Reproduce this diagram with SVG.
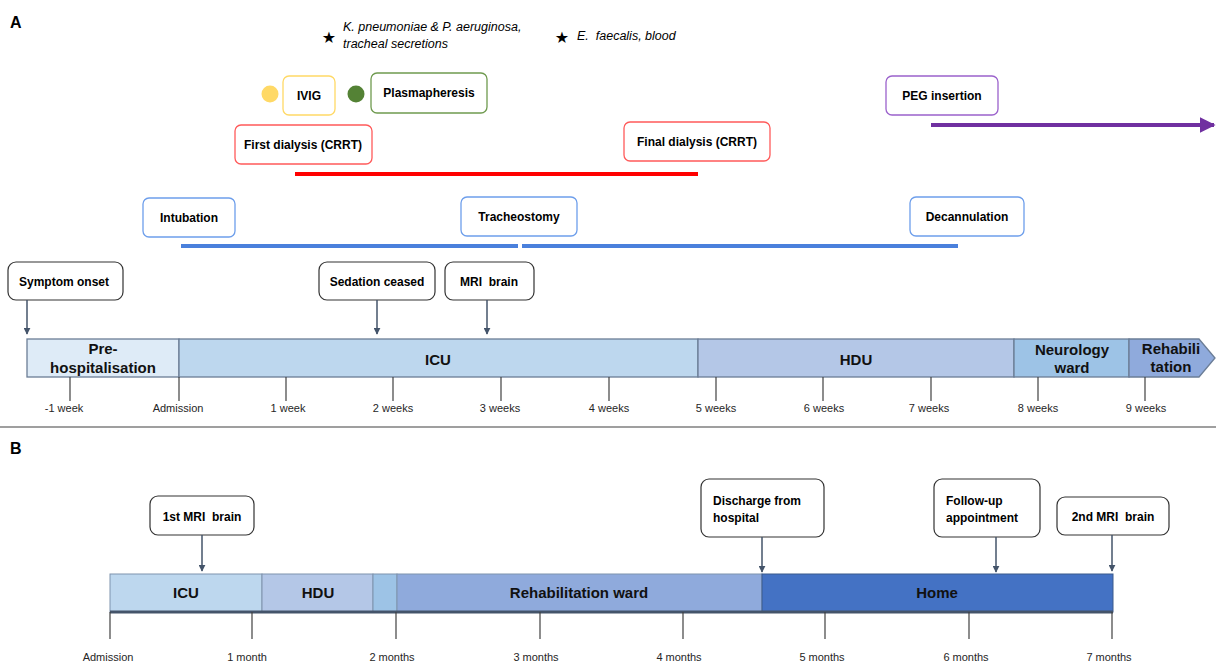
<svg xmlns="http://www.w3.org/2000/svg" width="1216" height="662" viewBox="0 0 1216 662">
<defs>
<style>
.panel{font-family:"Liberation Sans",Arial,sans-serif;font-weight:bold;font-size:16px;fill:#000}
.lbl{font-family:"Liberation Sans",Arial,sans-serif;font-weight:bold;font-size:12px;fill:#000}
.tick{font-family:"Liberation Sans",Arial,sans-serif;font-size:11px;fill:#262626}
.bar{font-family:"Liberation Sans",Arial,sans-serif;font-weight:bold;font-size:15px;fill:#111}
.ital{font-family:"Liberation Sans",Arial,sans-serif;font-style:italic;font-size:12.5px;fill:#000}
.star{font-family:"DejaVu Sans",sans-serif;font-size:16px;fill:#000}
.ev{fill:#fff;stroke:#333;stroke-width:1.2}
.evline{stroke:#44546a;stroke-width:1.5;fill:none}
.tl{stroke:#404040;stroke-width:1.2}
.segA{stroke:#6b7d96;stroke-width:1.3}
.segB{stroke:#7f93ad;stroke-width:1}
</style>
<marker id="ah" viewBox="0 0 10 10" refX="9" refY="5" markerWidth="7" markerHeight="7" markerUnits="userSpaceOnUse" orient="auto">
<path d="M0,0 L10,5 L0,10 z" fill="#44546a"/>
</marker>
<marker id="ahp" viewBox="0 0 10 10" refX="9" refY="5" markerWidth="4" markerHeight="4" orient="auto">
<path d="M0,0 L10,5 L0,10 z" fill="#7030a0"/>
</marker>
</defs>

<rect width="1216" height="662" fill="#fff"/>

<!-- Panel labels -->
<text class="panel" x="10" y="28">A</text>
<text class="panel" x="10" y="454">B</text>

<!-- Infections -->
<g id="infection1">
<text class="star" x="329" y="43" text-anchor="middle">★</text>
<text class="ital" x="343" y="31">K. pneumoniae &amp; P. aeruginosa,</text>
<text class="ital" x="343" y="48">tracheal secretions</text>
</g>
<g id="infection2">
<text class="star" x="562" y="43" text-anchor="middle">★</text>
<text class="ital" x="577" y="40" xml:space="preserve">E.  faecalis, blood</text>
</g>

<!-- Treatments -->
<g id="ivig">
<circle cx="270" cy="94" r="8.5" fill="#ffd966"/>
<rect x="283" y="76" width="52" height="39" rx="6" fill="#fff" stroke="#ffd966" stroke-width="1.3"/>
<text class="lbl" x="309" y="100" text-anchor="middle">IVIG</text>
</g>
<g id="plasmapheresis">
<circle cx="356" cy="94" r="8.5" fill="#548235"/>
<rect x="371" y="73" width="116" height="40" rx="6" fill="#fff" stroke="#6f9a4f" stroke-width="1.3"/>
<text class="lbl" x="429" y="97" text-anchor="middle">Plasmapheresis</text>
</g>
<g id="first-dialysis">
<rect x="235" y="125" width="137" height="39" rx="6" fill="#fff" stroke="#ff5a5a" stroke-width="1.3"/>
<text class="lbl" x="303" y="149" text-anchor="middle">First dialysis (CRRT)</text>
</g>
<g id="final-dialysis">
<rect x="624" y="122" width="146" height="39" rx="6" fill="#fff" stroke="#ff5a5a" stroke-width="1.3"/>
<text class="lbl" x="697" y="146" text-anchor="middle">Final dialysis (CRRT)</text>
</g>
<g id="peg">
<rect x="886" y="76" width="112" height="39" rx="6" fill="#fff" stroke="#9b62cc" stroke-width="1.3"/>
<text class="lbl" x="942" y="100" text-anchor="middle">PEG insertion</text>
</g>
<g id="intubation">
<rect x="143" y="198" width="92" height="39" rx="6" fill="#fff" stroke="#6d9eeb" stroke-width="1.3"/>
<text class="lbl" x="189" y="222" text-anchor="middle">Intubation</text>
</g>
<g id="tracheostomy">
<rect x="461" y="197" width="116" height="39" rx="6" fill="#fff" stroke="#6d9eeb" stroke-width="1.3"/>
<text class="lbl" x="519" y="221" text-anchor="middle">Tracheostomy</text>
</g>
<g id="decannulation">
<rect x="910" y="197" width="114" height="39" rx="6" fill="#fff" stroke="#6d9eeb" stroke-width="1.3"/>
<text class="lbl" x="967" y="221" text-anchor="middle">Decannulation</text>
</g>

<!-- Duration lines -->
<g id="durations">
<line x1="295" y1="174" x2="698" y2="174" stroke="#ff0000" stroke-width="4"/>
<line x1="931" y1="125" x2="1214" y2="125" stroke="#7030a0" stroke-width="4" marker-end="url(#ahp)"/>
<line x1="181" y1="246" x2="518" y2="246" stroke="#4a80dc" stroke-width="4"/>
<line x1="522" y1="246" x2="958" y2="246" stroke="#4a80dc" stroke-width="4"/>
</g>

<!-- Events A -->
<g id="symptom-onset">
<rect class="ev" x="8" y="262" width="115" height="38" rx="8"/>
<text class="lbl" x="64" y="286" text-anchor="middle">Symptom onset</text>
</g>
<g id="sedation-ceased">
<rect class="ev" x="319" y="262" width="116" height="38" rx="8"/>
<text class="lbl" x="377" y="286" text-anchor="middle">Sedation ceased</text>
</g>
<g id="mri-brain">
<rect class="ev" x="445" y="262" width="89" height="38" rx="8"/>
<text class="lbl" x="489" y="286" text-anchor="middle" xml:space="preserve">MRI  brain</text>
</g>

<!-- Timeline A -->
<g id="timeline-a">
<rect class="segA" x="27" y="339" width="152" height="38" fill="#deebf7"/>
<rect class="segA" x="179" y="339" width="519" height="38" fill="#bdd7ee"/>
<rect class="segA" x="698" y="339" width="316" height="38" fill="#b4c7e7"/>
<rect class="segA" x="1014" y="339" width="115" height="38" fill="#9dc3e6"/>
<polygon class="segA" points="1129,339 1199,339 1215,358 1199,377 1129,377" fill="#8faadc"/>
<text class="bar" x="103" y="354" text-anchor="middle">Pre-</text>
<text class="bar" x="103" y="373" text-anchor="middle">hospitalisation</text>
<text class="bar" x="438" y="365" text-anchor="middle">ICU</text>
<text class="bar" x="856" y="365" text-anchor="middle">HDU</text>
<text class="bar" x="1072" y="355" text-anchor="middle">Neurology</text>
<text class="bar" x="1072" y="373" text-anchor="middle">ward</text>
<text class="bar" x="1171" y="354" text-anchor="middle">Rehabili</text>
<text class="bar" x="1171" y="372" text-anchor="middle">tation</text>
</g>
<g id="ticks-a">
<line class="tl" x1="70" y1="377" x2="70" y2="401"/>
<line class="tl" x1="179" y1="377" x2="179" y2="401"/>
<line class="tl" x1="286" y1="377" x2="286" y2="401"/>
<line class="tl" x1="393" y1="377" x2="393" y2="401"/>
<line class="tl" x1="501" y1="377" x2="501" y2="401"/>
<line class="tl" x1="609" y1="377" x2="609" y2="401"/>
<line class="tl" x1="716" y1="377" x2="716" y2="401"/>
<line class="tl" x1="823" y1="377" x2="823" y2="401"/>
<line class="tl" x1="931" y1="377" x2="931" y2="401"/>
<line class="tl" x1="1038" y1="377" x2="1038" y2="401"/>
<line class="tl" x1="1145" y1="377" x2="1145" y2="401"/>
<text class="tick" x="64" y="412" text-anchor="middle">-1 week</text>
<text class="tick" x="178" y="412" text-anchor="middle">Admission</text>
<text class="tick" x="288" y="412" text-anchor="middle">1 week</text>
<text class="tick" x="393" y="412" text-anchor="middle">2 weeks</text>
<text class="tick" x="500" y="412" text-anchor="middle">3 weeks</text>
<text class="tick" x="609" y="412" text-anchor="middle">4 weeks</text>
<text class="tick" x="716" y="412" text-anchor="middle">5 weeks</text>
<text class="tick" x="824" y="412" text-anchor="middle">6 weeks</text>
<text class="tick" x="929" y="412" text-anchor="middle">7 weeks</text>
<text class="tick" x="1038" y="412" text-anchor="middle">8 weeks</text>
<text class="tick" x="1146" y="412" text-anchor="middle">9 weeks</text>
</g>

<line x1="0" y1="427" x2="1216" y2="427" stroke="#7f7f7f" stroke-width="1.5"/>

<!-- Events B -->
<g id="first-mri">
<rect class="ev" x="150" y="496" width="104" height="39" rx="8"/>
<text class="lbl" x="202" y="521" text-anchor="middle" xml:space="preserve">1st MRI  brain</text>
</g>
<g id="discharge">
<rect class="ev" x="701" y="479" width="123" height="58" rx="8"/>
<text class="lbl" x="713" y="505">Discharge from</text>
<text class="lbl" x="713" y="522">hospital</text>
</g>
<g id="follow-up">
<rect class="ev" x="934" y="479" width="106" height="58" rx="8"/>
<text class="lbl" x="946" y="505">Follow-up</text>
<text class="lbl" x="946" y="522">appointment</text>
</g>
<g id="second-mri">
<rect class="ev" x="1057" y="497" width="112" height="38" rx="8"/>
<text class="lbl" x="1113" y="521" text-anchor="middle" xml:space="preserve">2nd MRI  brain</text>
</g>

<!-- Timeline B -->
<g id="timeline-b">
<rect class="segB" x="110" y="574" width="152" height="38" fill="#bdd7ee"/>
<rect class="segB" x="262" y="574" width="111" height="38" fill="#b4c7e7"/>
<rect class="segB" x="373" y="574" width="24" height="38" fill="#9dc3e6"/>
<rect class="segB" x="397" y="574" width="365" height="38" fill="#8faadc"/>
<rect x="762" y="574" width="351" height="38" fill="#4472c4" stroke="#3a5a8c" stroke-width="1"/>
<line x1="110" y1="612" x2="1113" y2="612" stroke="#44546a" stroke-width="3"/>
<text class="bar" x="186" y="598" text-anchor="middle">ICU</text>
<text class="bar" x="318" y="598" text-anchor="middle">HDU</text>
<text class="bar" x="579" y="598" text-anchor="middle">Rehabilitation ward</text>
<text class="bar" x="937" y="598" text-anchor="middle">Home</text>
</g>
<g id="ticks-b">
<line class="tl" x1="110" y1="612" x2="110" y2="639"/>
<line class="tl" x1="252" y1="612" x2="252" y2="639"/>
<line class="tl" x1="396" y1="612" x2="396" y2="639"/>
<line class="tl" x1="540" y1="612" x2="540" y2="639"/>
<line class="tl" x1="683" y1="612" x2="683" y2="639"/>
<line class="tl" x1="825" y1="612" x2="825" y2="639"/>
<line class="tl" x1="969" y1="612" x2="969" y2="639"/>
<line class="tl" x1="1112" y1="612" x2="1112" y2="639"/>
<text class="tick" x="108" y="661" text-anchor="middle">Admission</text>
<text class="tick" x="247" y="661" text-anchor="middle">1 month</text>
<text class="tick" x="392" y="661" text-anchor="middle">2 months</text>
<text class="tick" x="536" y="661" text-anchor="middle">3 months</text>
<text class="tick" x="679" y="661" text-anchor="middle">4 months</text>
<text class="tick" x="822" y="661" text-anchor="middle">5 months</text>
<text class="tick" x="966" y="661" text-anchor="middle">6 months</text>
<text class="tick" x="1109" y="661" text-anchor="middle">7 months</text>
</g>

<!-- Event connectors -->
<g id="connectors">
<line class="evline" x1="27" y1="300" x2="27" y2="334" marker-end="url(#ah)"/>
<line class="evline" x1="377" y1="300" x2="377" y2="334" marker-end="url(#ah)"/>
<line class="evline" x1="487" y1="300" x2="487" y2="334" marker-end="url(#ah)"/>
<line class="evline" x1="202" y1="535" x2="202" y2="571" marker-end="url(#ah)"/>
<line class="evline" x1="762" y1="537" x2="762" y2="572" marker-end="url(#ah)"/>
<line class="evline" x1="996" y1="537" x2="996" y2="572" marker-end="url(#ah)"/>
<line class="evline" x1="1112" y1="535" x2="1112" y2="571" marker-end="url(#ah)"/>
</g>
</svg>
